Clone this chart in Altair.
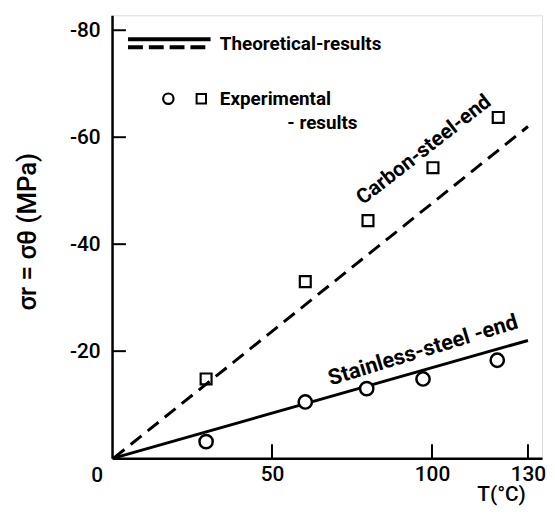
import altair as alt
import pandas as pd

# ---- data ----
carbon_T = [29.4, 60.4, 80.0, 100.3, 120.7]
carbon_sigma = [-14.8, -33.0, -44.4, -54.3, -63.7]
stainless_T = [29.4, 60.4, 79.6, 97.2, 120.4]
stainless_sigma = [-3.1, -10.5, -13.0, -14.8, -18.3]
theory_T = [0.5, 130.0]
carbon_theory = [0.0, -62.0]
stainless_theory = [0.0, -22.0]
x_tick_values = [50, 100, 130]
y_tick_values = [-80, -60, -40, -20]

W, H = 434, 447
FONT = "Roboto"

xs = alt.Scale(domain=[0, 134.4], nice=False, zero=False)
ys = alt.Scale(domain=[0, -82.8], nice=False, zero=False)

xaxis = alt.Axis(
    values=x_tick_values, ticks=False, grid=False, domainWidth=2.5, domainColor="black",
    labelFont=FONT, labelFontSize=21, labelFontWeight=500, labelColor="black",
    labelPadding=6, labelFlush=False,
    title="T(°C)", titleFont=FONT, titleFontSize=21, titleFontWeight=500,
    titleAlign="right", titleAnchor="end", titleX=417, titleY=26, titleColor="black")
yaxis = alt.Axis(
    values=y_tick_values, ticks=False, grid=False, domainWidth=2.5, domainColor="black",
    labelFont=FONT, labelFontSize=21, labelFontWeight=500, labelColor="black",
    labelPadding=12, labelExpr="'-' + abs(datum.value)",
    title="σr = σθ (MPa)", titleFont=FONT, titleFontSize=26, titleFontWeight=500,
    titleColor="black", titleX=-72, titleY=218, titleAngle=270, titleAlign="center")


def X(f="T"):
    return alt.X(f + ":Q", scale=xs, axis=xaxis)


def Y(f="s"):
    return alt.Y(f + ":Q", scale=ys, axis=yaxis)


carbon_pts = pd.DataFrame({"T": carbon_T, "s": carbon_sigma})
stain_pts = pd.DataFrame({"T": stainless_T, "s": stainless_sigma})
carbon_line = pd.DataFrame({"T": theory_T, "s": carbon_theory})
stain_line = pd.DataFrame({"T": theory_T, "s": stainless_theory})

xticks = alt.Chart(pd.DataFrame({"T": x_tick_values})).mark_rule(strokeWidth=2, color="black").encode(
    x=X(), y=alt.value(H), y2=alt.value(H - 14))
yticks = alt.Chart(pd.DataFrame({"s": y_tick_values})).mark_rule(strokeWidth=2, color="black").encode(
    y=Y(), x=alt.value(0), x2=alt.value(14))

zero_lbl = alt.Chart(pd.DataFrame({"T": [0], "s": [0], "t": ["0"]})).mark_text(
    font=FONT, fontSize=21, fontWeight=500, dx=-15, dy=18, color="black").encode(
    x=X(), y=Y(), text="t:N")

l_carbon = alt.Chart(carbon_line).mark_line(color="black", strokeWidth=3, strokeDash=[14, 8]).encode(x=X(), y=Y())
l_stain = alt.Chart(stain_line).mark_line(color="black", strokeWidth=3).encode(x=X(), y=Y())

p_carbon = alt.Chart(carbon_pts).mark_point(shape="square", size=121, filled=False, color="black",
                                            strokeWidth=2.2, opacity=1).encode(x=X(), y=Y())
p_stain = alt.Chart(stain_pts).mark_point(shape="circle", size=180, filled=False, color="black",
                                          strokeWidth=2.5, opacity=1, fill="white", fillOpacity=1).encode(x=X(), y=Y())

# legend
leg_solid = alt.Chart(pd.DataFrame({"T": [5.0], "T2": [30.8], "s": [-78.3]})).mark_rule(
    strokeWidth=4, color="black").encode(x=X(), x2="T2:Q", y=Y())
leg_dash = alt.Chart(pd.DataFrame({"T": [5.0], "T2": [30.8], "s": [-76.8]})).mark_rule(
    strokeWidth=4, color="black", strokeDash=[15, 6]).encode(x=X(), x2="T2:Q", y=Y())
leg_c = alt.Chart(pd.DataFrame({"T": [17.6], "s": [-67.2]})).mark_point(
    shape="circle", size=110, filled=False, color="black", strokeWidth=2.2, opacity=1).encode(x=X(), y=Y())
leg_s = alt.Chart(pd.DataFrame({"T": [27.9], "s": [-67.2]})).mark_point(
    shape="square", size=90, filled=False, color="black", strokeWidth=2, opacity=1).encode(x=X(), y=Y())

leg_text = alt.Chart(pd.DataFrame({
    "T": [33.7, 33.7, 54.8], "s": [-77.4, -67.2, -62.6],
    "t": ["Theoretical-results", "Experimental", "- results"]})).mark_text(
    font=FONT, fontSize=19, fontWeight="bold", align="left", baseline="middle", color="black").encode(
    x=X(), y=Y(), text="t:N")

ann_c = alt.Chart(pd.DataFrame({"T": [97.5], "s": [-57.6], "t": ["Carbon-steel-end"]})).mark_text(
    font=FONT, fontSize=21, fontWeight="bold", angle=322, align="center", baseline="middle",
    color="black").encode(x=X(), y=Y(), text="t:N")
ann_s = alt.Chart(pd.DataFrame({"T": [97.2], "s": [-20.2], "t": ["Stainless-steel -end"]})).mark_text(
    font=FONT, fontSize=22, fontWeight="bold", angle=343, align="center", baseline="middle",
    color="black").encode(x=X(), y=Y(), text="t:N")

chart = alt.layer(
    xticks, yticks, zero_lbl, l_carbon, l_stain, p_carbon, p_stain,
    leg_solid, leg_dash, leg_c, leg_s, leg_text, ann_c, ann_s
).properties(
    width=W, height=H,
    autosize=alt.AutoSizeParams(type="none"),
    padding={"left": 105, "top": 5, "right": 5, "bottom": 48},
).configure_view(stroke=None).configure(background="white")

chart.save("out.html", embed_options={"renderer": "svg", "actions": False})
